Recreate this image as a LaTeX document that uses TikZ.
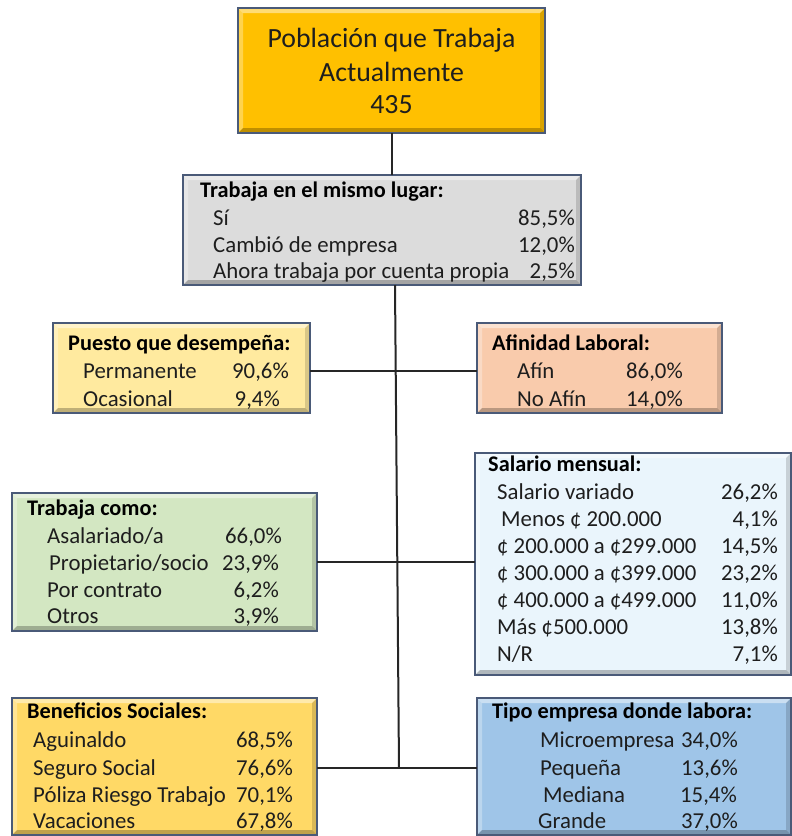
\documentclass[tikz,border=0pt]{standalone}
\usepackage{fontspec}
\setmainfont{Carlito}
\usetikzlibrary{calc}
\newcommand\fb{\fontsize{22.8}{27}\selectfont}
\newcommand\fh{\fontsize{22.3}{27}\selectfont}
\newcommand\ft{\fontsize{27.8}{33}\selectfont}
\definecolor{cgold}{HTML}{FFC000}
\definecolor{cgray}{HTML}{DCDCDC}
\definecolor{cpuesto}{HTML}{FFEA9F}
\definecolor{cafin}{HTML}{F9CBAC}
\definecolor{ccomo}{HTML}{D3E7C2}
\definecolor{csal}{HTML}{EAF5FC}
\definecolor{cben}{HTML}{FFD966}
\definecolor{ctipo}{HTML}{9FC5E8}
\definecolor{cedge}{HTML}{4A5A78}
\definecolor{ctxt}{HTML}{1E1E1E}
\tikzset{
  bev/.style={draw=cedge, line width=1.4pt, inner sep=0pt, outer sep=0pt,
    path picture={
      \fill[white,opacity=.45] (path picture bounding box.north west) -- (path picture bounding box.north east)
        -- ([xshift=-5pt,yshift=-5pt]path picture bounding box.north east) -- ([xshift=5pt,yshift=-5pt]path picture bounding box.north west) -- cycle;
      \fill[white,opacity=.3] (path picture bounding box.north west) -- ([xshift=5pt,yshift=-5pt]path picture bounding box.north west)
        -- ([xshift=5pt,yshift=5pt]path picture bounding box.south west) -- (path picture bounding box.south west) -- cycle;
      \fill[black,opacity=.25] (path picture bounding box.south west) -- ([xshift=5pt,yshift=5pt]path picture bounding box.south west)
        -- ([xshift=-5pt,yshift=5pt]path picture bounding box.south east) -- (path picture bounding box.south east) -- cycle;
      \fill[black,opacity=.15] (path picture bounding box.north east) -- (path picture bounding box.south east)
        -- ([xshift=-5pt,yshift=5pt]path picture bounding box.south east) -- ([xshift=-5pt,yshift=-5pt]path picture bounding box.north east) -- cycle;
    }},
  lb/.style={anchor=base west, inner sep=0pt, font=\fb, text=ctxt},
  vl/.style={anchor=base east, inner sep=0pt, font=\fb, text=ctxt},
  hd/.style={anchor=base west, inner sep=0pt, font=\fh\bfseries, text=black},
  tt/.style={anchor=base, inner sep=0pt, font=\ft, text=ctxt},
  conn/.style={draw=black!85, line width=2pt},
}
\newcommand\bx[6]{\node[bev,fill=#6,minimum width={#4-#2},minimum height={#5-#3}] (#1) at ({(#2+#4)/2},{(#3+#5)/2}) {};}
\newcommand\rw[6]{\node[lb] (#1l) at (#2,#4) {#5}; \node[vl] (#1v) at (#3,#4) {#6};}
\begin{document}
\begin{tikzpicture}[x=1pt,y=-1pt]
\useasboundingbox (0,0) rectangle (792,836);
% boxes
\bx{top}{238}{8}{545}{133}{cgold}
\bx{lugar}{183}{175}{581}{285}{cgray}
\bx{puesto}{53}{323}{310}{413}{cpuesto}
\bx{afin}{477}{323}{722}{413}{cafin}
\bx{como}{12}{493}{317}{631}{ccomo}
\bx{sal}{475}{453}{791}{675}{csal}
\bx{ben}{12}{698}{317}{835}{cben}
\bx{tipo}{477}{698}{791}{835}{ctipo}
% connectors
\coordinate (tTop) at (395,285);
\coordinate (tBot) at (399,768);
\draw[conn] (top.south) -- (top.south |- lugar.north);
\draw[conn] (tTop) -- (tBot);
\draw[conn] ([yshift=-3pt]puesto.east) -- ([yshift=-3pt]afin.west);
\draw[conn] (como.east) -- (como.east -| sal.west);
\draw[conn] ([yshift=-1.5pt]ben.east) -- ([yshift=-1.5pt]tipo.west);
% top text
\node[tt] (t1) at (391.5,47) {Población que Trabaja};
\node[tt] (t2) at (391.5,81) {Actualmente};
\node[tt] (t3) at (391.5,113) {435};
% lugar
\node[hd] (lugarh) at (200,197) {Trabaja en el mismo lugar:};
\rw{la}{213}{575}{225}{Sí}{85,5\%}
\rw{lb}{213}{575}{252}{Cambió de empresa}{12,0\%}
\rw{lc}{213}{575}{278}{Ahora trabaja por cuenta propia}{2,5\%}
% puesto
\node[hd] (puestoh) at (68,350) {Puesto que desempeña:};
\rw{pa}{83}{289}{378}{Permanente}{90,6\%}
\rw{pb}{83}{280}{406}{Ocasional}{9,4\%}
% afinidad
\node[hd] (afinh) at (492,350) {Afinidad Laboral:};
\rw{aa}{517}{683}{378}{Afín}{86,0\%}
\rw{ab}{517}{683}{406}{No Afín}{14,0\%}
% trabaja como
\node[hd] (comoh) at (27,515) {Trabaja como:};
\rw{ca}{47}{282}{543}{Asalariado/a}{66,0\%}
\rw{cb}{49}{279}{570}{Propietario/socio}{23,9\%}
\rw{cc}{47}{279}{597}{Por contrato}{6,2\%}
\rw{cd}{47}{279}{623}{Otros}{3,9\%}
% salario
\node[hd] (salh) at (488,471) {Salario mensual:};
\rw{sa}{497}{778}{499}{Salario variado}{26,2\%}
\rw{sb}{501}{778}{526}{Menos ¢ 200.000}{4,1\%}
\rw{sc}{497}{778}{553}{¢ 200.000 a ¢299.000}{14,5\%}
\rw{sd}{497}{778}{580}{¢ 300.000 a ¢399.000}{23,2\%}
\rw{se}{497}{778}{607}{¢ 400.000 a ¢499.000}{11,0\%}
\rw{sf}{497}{778}{634}{Más ¢500.000}{13,8\%}
\rw{sg}{497}{778}{661}{N/R}{7,1\%}
% beneficios
\node[hd] (benh) at (27,718) {Beneficios Sociales:};
\rw{ba}{33}{293}{747}{Aguinaldo}{68,5\%}
\rw{bb}{33}{293}{775}{Seguro Social}{76,6\%}
\rw{bc}{33}{293}{802}{Póliza Riesgo Trabajo}{70,1\%}
\rw{bd}{33}{293}{828}{Vacaciones}{67,8\%}
% tipo
\node[hd] (tipoh) at (492,718) {Tipo empresa donde labora:};
\rw{ta}{540}{738}{747}{Microempresa}{34,0\%}
\rw{tb}{540}{738}{775}{Pequeña}{13,6\%}
\rw{tc}{543}{737}{802}{Mediana}{15,4\%}
\rw{td}{538}{738}{828}{Grande}{37,0\%}
\end{tikzpicture}
\end{document}
